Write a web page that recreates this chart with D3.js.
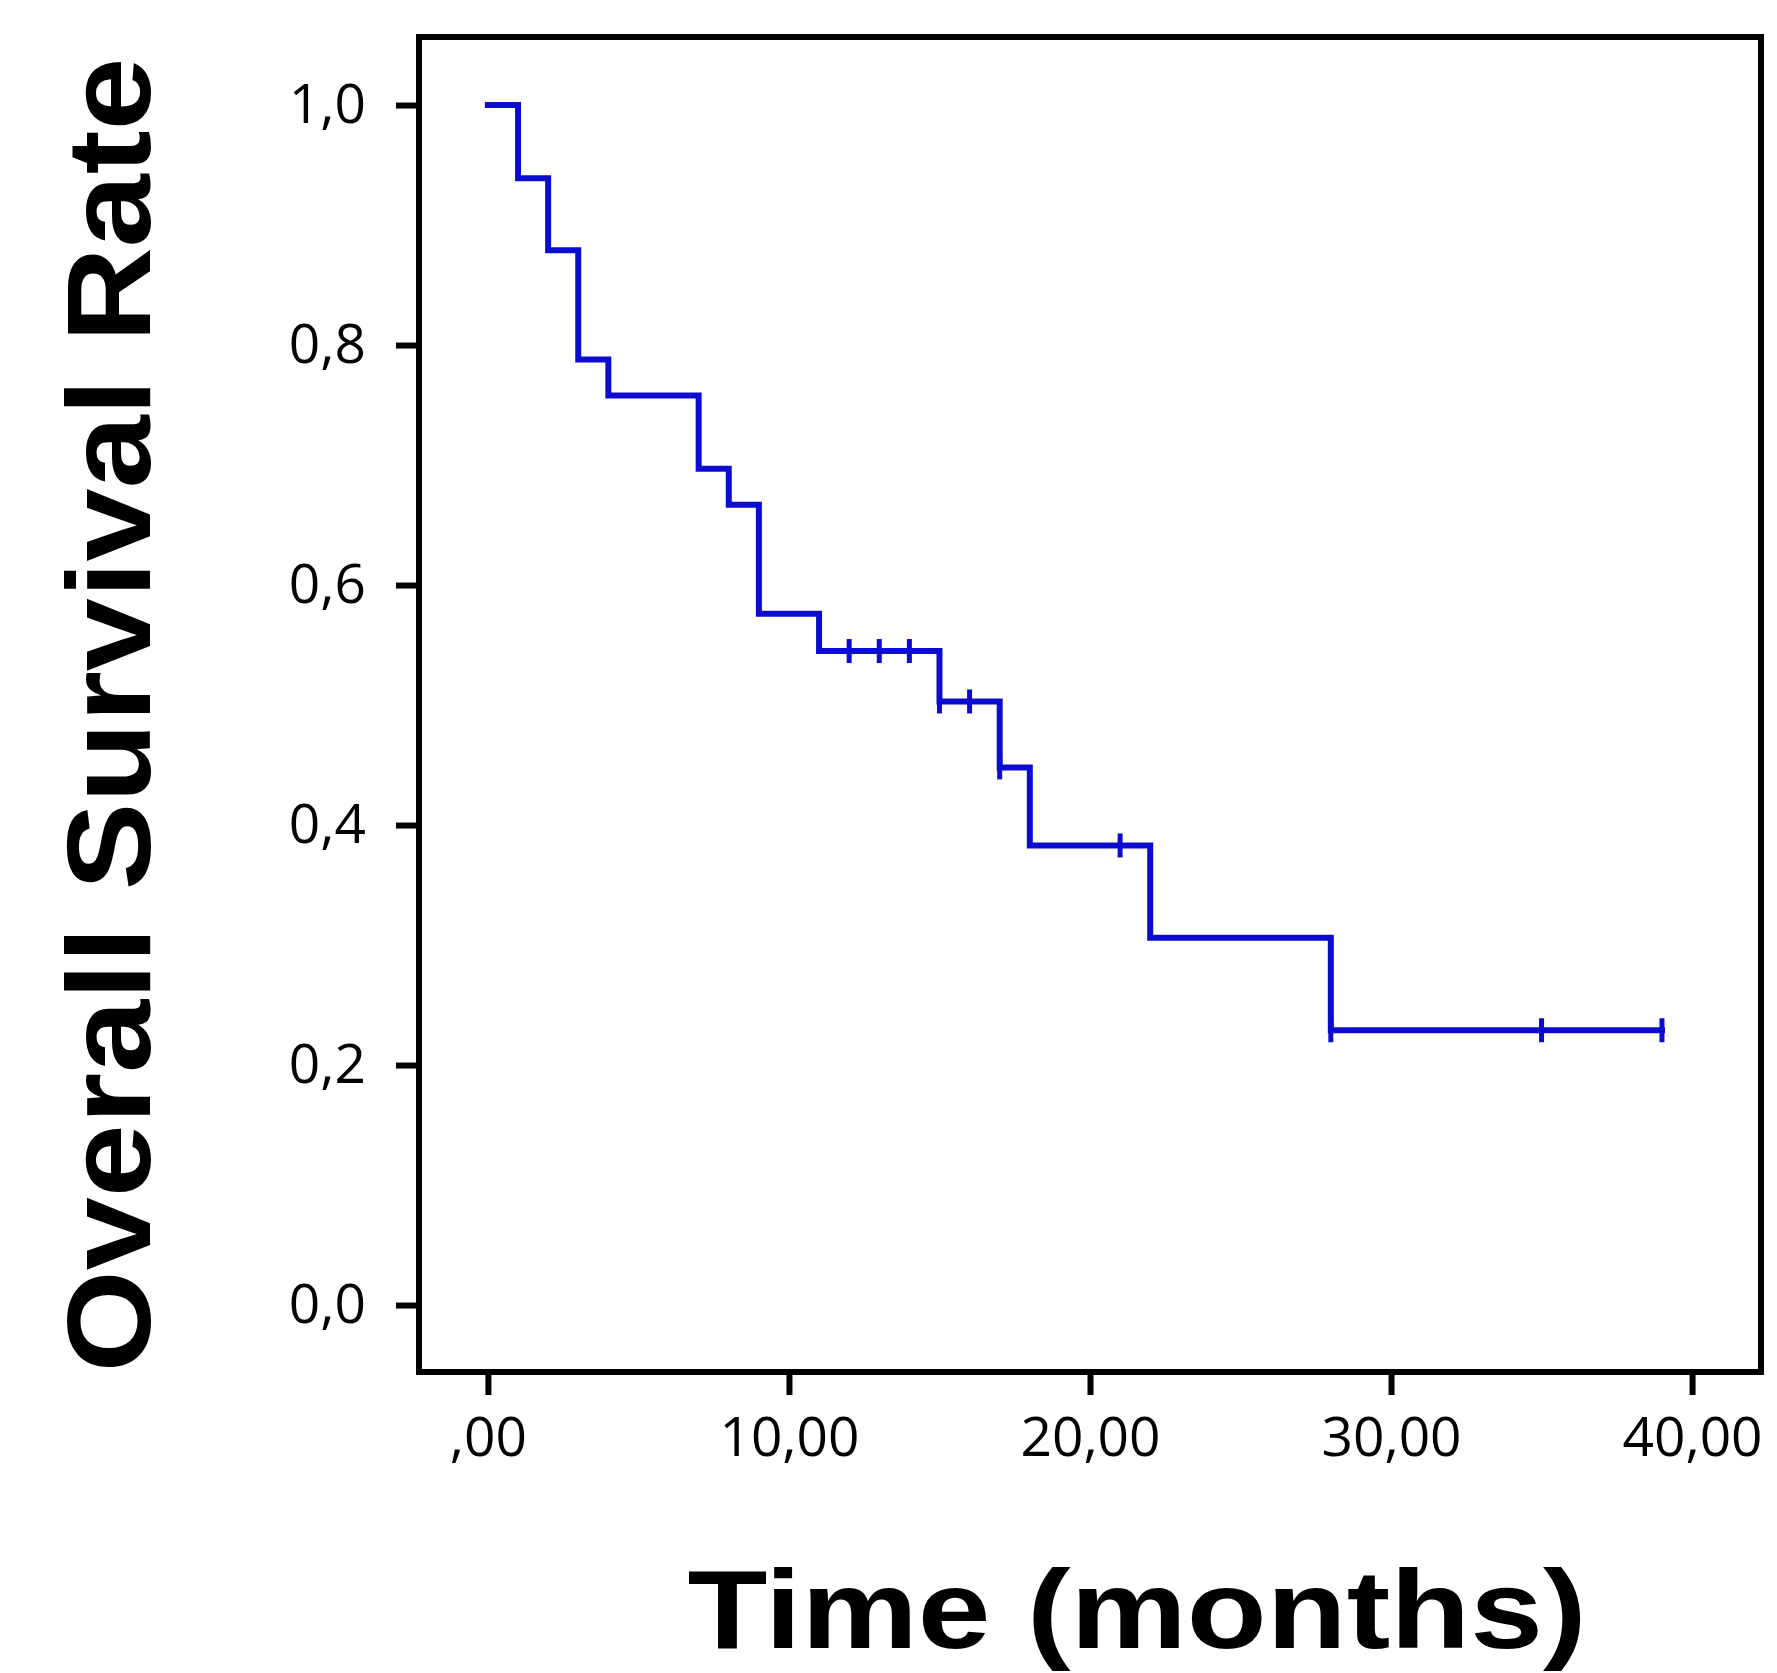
<!DOCTYPE html>
<html>
<head>
<meta charset="utf-8">
<script src="https://cdn.jsdelivr.net/npm/d3@7"></script>
<style>
  body { margin: 0; background: #fff; }
</style>
</head>
<body>
<svg id="chart" width="1777" height="1673"></svg>
<script>
// Kaplan-Meier steps (months, survival)
var stepTimes = [0, 1, 2, 3, 4, 7, 8, 9, 11, 15, 17, 18, 22, 28];
var stepSurv = [1.0, 0.939, 0.879, 0.788, 0.758, 0.697, 0.667, 0.576, 0.545, 0.503, 0.448, 0.383, 0.306, 0.229];
var lastTime = 39;

// censored cases (tick marks)
var censorTimes = [12, 13, 14, 15, 16, 17, 21, 28, 35, 39];

var xTicks = [0, 10, 20, 30, 40];
var xTickLabels = [",00", "10,00", "20,00", "30,00", "40,00"];
var yTicks = [0, 0.2, 0.4, 0.6, 0.8, 1.0];
var yTickLabels = ["0,0", "0,2", "0,4", "0,6", "0,8", "1,0"];

var xTitle = "Time (months)";
var yTitle = "Overall Survival Rate";

var curveColor = "#0c0cd0";

var svg = d3.select("#chart");

// plot frame (window.top is reserved, so no plain "top")
var frameL = 419, frameR = 1761, frameT = 37, frameB = 1372;

var x = d3.scaleLinear().domain([-2.29, 42.29]).range([frameL, frameR]);
var y = d3.scaleLinear().domain([-0.0558, 1.0567]).range([frameB, frameT]);

var survAt = function(t) {
  var s = stepSurv[0];
  for (var i = 0; i < stepTimes.length; i++) {
    if (stepTimes[i] <= t) s = stepSurv[i];
  }
  return s;
};

// axes
var yAxis = d3.axisLeft(y)
  .tickValues(yTicks)
  .tickFormat(function(d, i) { return yTickLabels[i]; })
  .tickSize(23)
  .tickPadding(30);

var xAxis = d3.axisBottom(x)
  .tickValues(xTicks)
  .tickFormat(function(d, i) { return xTickLabels[i]; })
  .tickSize(23)
  .tickPadding(22);

var gy = svg.append("g").attr("transform", "translate(" + frameL + ",0)").call(yAxis);
var gx = svg.append("g").attr("transform", "translate(0," + frameB + ")").call(xAxis);

[gy, gx].forEach(function(g) {
  g.select(".domain").remove();
  g.selectAll(".tick line").attr("stroke", "#000").attr("stroke-width", 6);
  g.selectAll(".tick text")
    .attr("fill", "#000")
    .style("font-family", "'Open Sans', sans-serif")
    .style("font-size", "55px");
});

// frame
svg.append("rect")
  .attr("x", frameL)
  .attr("y", frameT)
  .attr("width", frameR - frameL)
  .attr("height", frameB - frameT)
  .attr("fill", "none")
  .attr("stroke", "#000")
  .attr("stroke-width", 6);

// survival curve
var pts = stepTimes.map(function(t, i) { return [t, stepSurv[i]]; });
pts.push([lastTime, stepSurv[stepSurv.length - 1]]);

var line = d3.line()
  .x(function(d) { return x(d[0]); })
  .y(function(d) { return y(d[1]); })
  .curve(d3.curveStepAfter);

svg.append("path")
  .datum(pts)
  .attr("d", line)
  .attr("fill", "none")
  .attr("stroke", curveColor)
  .attr("stroke-width", 6)
  .attr("stroke-linecap", "square");

svg.selectAll(".censor")
  .data(censorTimes)
  .enter()
  .append("line")
  .attr("class", "censor")
  .attr("x1", function(d) { return x(d); })
  .attr("x2", function(d) { return x(d); })
  .attr("y1", function(d) { return y(survAt(d)) - 12; })
  .attr("y2", function(d) { return y(survAt(d)) + 12; })
  .attr("stroke", curveColor)
  .attr("stroke-width", 5);

// titles
svg.append("text")
  .attr("x", 1137)
  .attr("y", 1648)
  .attr("text-anchor", "middle")
  .attr("textLength", 899)
  .attr("lengthAdjust", "spacingAndGlyphs")
  .style("font-family", "'Liberation Sans', Arial, sans-serif")
  .style("font-weight", "bold")
  .style("font-size", "112px")
  .text(xTitle);

svg.append("text")
  .attr("transform", "translate(150,715) rotate(-90)")
  .attr("text-anchor", "middle")
  .attr("textLength", 1315)
  .attr("lengthAdjust", "spacingAndGlyphs")
  .style("font-family", "'Liberation Sans', Arial, sans-serif")
  .style("font-weight", "bold")
  .style("font-size", "119px")
  .text(yTitle);
</script>
</body>
</html>
